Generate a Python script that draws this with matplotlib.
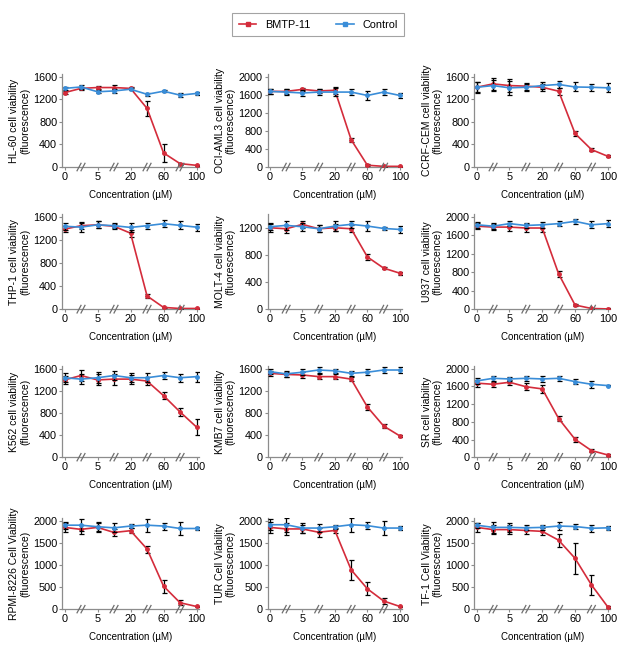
import numpy as np
import matplotlib
matplotlib.use('Agg')
import matplotlib.pyplot as plt
from matplotlib.lines import Line2D
import matplotlib.transforms as mtransforms

plt.rcParams['font.family'] = ['Liberation Sans', 'DejaVu Sans']

# concentrations (uM); plotted on an evenly spaced broken axis
conc = [0, 2.5, 5, 10, 20, 40, 60, 80, 100]
tick_labels = ['0', '5', '20', '60', '100']

cells = ['HL-60', 'OCI-AML3', 'CCRF-CEM', 'THP-1', 'MOLT-4', 'U937',
         'K562', 'KMB7', 'SR', 'RPMI-8226', 'TUR', 'TF-1']

bmtp = [
    [1320, 1395, 1410, 1410, 1395, 1040, 250, 60, 30],
    [1675, 1675, 1720, 1685, 1700, 605, 40, 15, 15],
    [1415, 1475, 1445, 1435, 1415, 1345, 595, 310, 190],
    [1390, 1450, 1465, 1440, 1320, 230, 30, 12, 12],
    [1200, 1185, 1250, 1185, 1200, 1185, 770, 605, 530],
    [1800, 1780, 1780, 1760, 1760, 765, 90, 15, 5],
    [1400, 1480, 1400, 1415, 1415, 1380, 1115, 820, 545],
    [1520, 1500, 1490, 1460, 1460, 1415, 910, 565, 385],
    [1675, 1650, 1695, 1595, 1545, 875, 405, 150, 50],
    [1850, 1805, 1850, 1735, 1775, 1360, 520, 145, 60],
    [1850, 1815, 1815, 1740, 1780, 890, 460, 185, 60],
    [1850, 1800, 1800, 1780, 1760, 1560, 1150, 550, 50],
]
bmtp_err = [
    [20, 20, 30, 40, 20, 135, 160, 20, 10],
    [60, 60, 40, 50, 80, 40, 20, 10, 10],
    [90, 100, 120, 60, 60, 60, 50, 20, 15],
    [50, 60, 60, 40, 60, 40, 15, 10, 10],
    [60, 60, 50, 50, 50, 50, 50, 20, 25],
    [60, 70, 90, 80, 80, 70, 20, 10, 10],
    [80, 100, 100, 100, 80, 80, 60, 70, 150],
    [40, 50, 50, 40, 40, 40, 50, 40, 20],
    [80, 60, 60, 80, 90, 50, 60, 30, 15],
    [100, 100, 100, 80, 60, 80, 150, 60, 20],
    [120, 130, 100, 100, 60, 230, 150, 60, 20],
    [100, 100, 100, 80, 80, 150, 350, 220, 20],
]
control = [
    [1395, 1420, 1335, 1350, 1380, 1290, 1345, 1275, 1305],
    [1675, 1660, 1640, 1660, 1660, 1660, 1585, 1660, 1585],
    [1415, 1445, 1405, 1415, 1445, 1465, 1420, 1415, 1405],
    [1440, 1425, 1465, 1450, 1420, 1450, 1485, 1455, 1425],
    [1215, 1235, 1215, 1185, 1225, 1250, 1225, 1190, 1175],
    [1830, 1800, 1855, 1815, 1830, 1855, 1905, 1830, 1855],
    [1440, 1415, 1440, 1480, 1440, 1440, 1480, 1440, 1460],
    [1550, 1510, 1540, 1580, 1565, 1520, 1540, 1580, 1580],
    [1725, 1785, 1770, 1785, 1770, 1785, 1710, 1650, 1620],
    [1900, 1900, 1865, 1840, 1880, 1900, 1880, 1825, 1825],
    [1910, 1910, 1835, 1835, 1865, 1910, 1890, 1835, 1835],
    [1900, 1850, 1850, 1840, 1850, 1880, 1870, 1830, 1840],
]
control_err = [
    [20, 30, 30, 30, 20, 30, 20, 40, 20],
    [60, 60, 60, 60, 80, 60, 100, 60, 60],
    [100, 100, 120, 60, 60, 60, 80, 60, 80],
    [60, 80, 60, 40, 80, 50, 60, 70, 60],
    [50, 70, 60, 50, 70, 50, 80, 20, 50],
    [60, 60, 60, 60, 70, 60, 50, 80, 70],
    [80, 90, 100, 90, 80, 80, 70, 70, 90],
    [40, 50, 50, 50, 40, 50, 50, 50, 50],
    [60, 60, 50, 60, 70, 50, 60, 80, 20],
    [80, 130, 100, 100, 50, 150, 80, 150, 40],
    [120, 160, 110, 100, 50, 160, 80, 150, 40],
    [60, 120, 100, 60, 60, 100, 60, 80, 40],
]
ylims = [1650, 2060, 1650, 1650, 1400, 2060, 1650, 1650, 2060, 2060, 2060, 2060]
ystep = [400, 400, 400, 400, 400, 400, 400, 400, 400, 500, 500, 500]
ytops = [1600, 2000, 1600, 1600, 1200, 2000, 1600, 1600, 2000, 2000, 2000, 2000]

red = '#d42c3b'
blue = '#3a8dd8'
grey = '#8c8c8c'

fig = plt.figure(figsize=(6.24, 6.55), dpi=100)

lefts = [0.0994, 0.4287, 0.760]
widths = [0.2196, 0.216, 0.218]
bottoms = [0.745, 0.528, 0.302, 0.070]
heights = [0.142, 0.145, 0.139, 0.139]

x = np.arange(len(conc))

for i, name in enumerate(cells):
    r, c = divmod(i, 3)
    ax = fig.add_axes([lefts[c], bottoms[r], widths[c], heights[r]])
    ax.errorbar(x, bmtp[i], yerr=bmtp_err[i], color=red, lw=1.2,
                marker='o', ms=2.5, ecolor='black', elinewidth=0.9,
                capsize=1.8, capthick=0.9, zorder=3)
    ax.errorbar(x, control[i], yerr=control_err[i], color=blue, lw=1.2,
                marker='o', ms=2.5, ecolor='black', elinewidth=0.9,
                capsize=1.8, capthick=0.9, zorder=4)
    ax.set_xlim(-0.15, 8.15)
    ax.set_ylim(0, ylims[i])
    ax.set_xticks(x[::2])
    ax.set_xticklabels(tick_labels)
    ax.set_yticks(np.arange(0, ytops[i] + 1, ystep[i]))
    ax.tick_params(labelsize=7.8, length=2, width=0.8, color=grey, pad=1.5)
    for s in ['top', 'right']:
        ax.spines[s].set_visible(False)
    for s in ['left', 'bottom']:
        ax.spines[s].set_color(grey)
        ax.spines[s].set_linewidth(0.9)
    word = 'Cell Viability' if r == 3 else 'cell viability'
    ax.set_ylabel(name + ' ' + word + '\n(fluorescence)', fontsize=7.5,
                  labelpad=2, linespacing=1.1)
    ax.set_xlabel('Concentration (\u00b5M)', fontsize=7, labelpad=6)

    # axis break marks
    trans = mtransforms.blended_transform_factory(ax.transData, ax.transAxes)
    for bx in x[1::2]:
        for dx in (-0.12, 0.12):
            ax.plot([bx + dx - 0.12, bx + dx + 0.12], [-0.04, 0.04],
                    transform=trans, color='#6e6e6e', lw=0.9, clip_on=False,
                    zorder=5)

handles = [
    Line2D([], [], color=red, lw=1.2, marker='s', ms=3.5),
    Line2D([], [], color=blue, lw=1.2, marker='s', ms=3.5),
]
leg = fig.legend(handles, ['BMTP-11', 'Control'], loc='upper center',
                 bbox_to_anchor=(0.51, 0.988), ncol=2, fontsize=7.8,
                 frameon=True, fancybox=False, edgecolor=grey,
                 handlelength=1.6, columnspacing=2.4, borderpad=0.6)
leg.get_frame().set_linewidth(0.8)

fig.savefig('out.png', dpi=100)
